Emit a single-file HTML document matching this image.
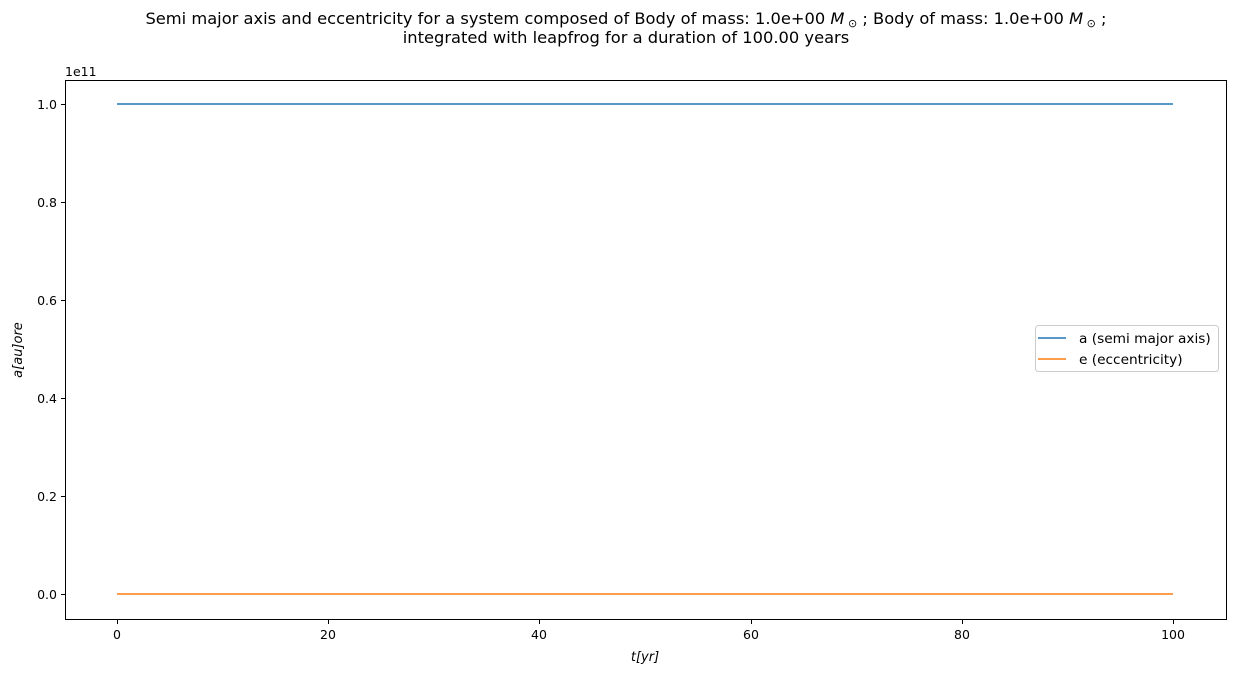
<!DOCTYPE html>
<html><head><meta charset="utf-8"><style>
html,body{margin:0;padding:0;background:#fff;}
svg text{font-family:"DejaVu Sans","Liberation Sans",sans-serif;fill:#000;}
</style></head><body>
<svg width="1236" height="676" viewBox="0 0 1236 676" xmlns="http://www.w3.org/2000/svg">
<rect width="1236" height="676" fill="#fff"/>
<text x="626" y="24" font-size="16.3" text-anchor="middle">Semi major axis and eccentricity for a system composed of Body of mass: 1.0e+00 <tspan font-style="italic">M</tspan><tspan font-size="11" dy="3"> ⊙</tspan><tspan dy="-3"> ; Body of mass: 1.0e+00 </tspan><tspan font-style="italic">M</tspan><tspan font-size="11" dy="3"> ⊙</tspan><tspan dy="-3"> ;</tspan></text>
<text x="626" y="43" font-size="16.3" text-anchor="middle">integrated with leapfrog for a duration of 100.00 years</text>
<rect x="65.5" y="80.5" width="1161" height="539" fill="none" stroke="#000" stroke-width="1"/>
<g stroke="#000" stroke-width="1">
<line x1="65" y1="104.5" x2="61" y2="104.5"/>
<line x1="65" y1="202.5" x2="61" y2="202.5"/>
<line x1="65" y1="300.5" x2="61" y2="300.5"/>
<line x1="65" y1="398.5" x2="61" y2="398.5"/>
<line x1="65" y1="496.5" x2="61" y2="496.5"/>
<line x1="65" y1="594.5" x2="61" y2="594.5"/>
<line x1="117.5" y1="620" x2="117.5" y2="624"/>
<line x1="328.5" y1="620" x2="328.5" y2="624"/>
<line x1="539.5" y1="620" x2="539.5" y2="624"/>
<line x1="751.5" y1="620" x2="751.5" y2="624"/>
<line x1="962.5" y1="620" x2="962.5" y2="624"/>
<line x1="1173.5" y1="620" x2="1173.5" y2="624"/>
</g>
<g font-size="12.5" text-anchor="end">
<text x="57" y="109">1.0</text>
<text x="57" y="207">0.8</text>
<text x="57" y="305">0.6</text>
<text x="57" y="403">0.4</text>
<text x="57" y="501">0.2</text>
<text x="57" y="599">0.0</text>
</g>
<text x="65" y="76" font-size="12.5">1e11</text>
<g font-size="12.5" text-anchor="middle">
<text x="117" y="639">0</text>
<text x="328" y="639">20</text>
<text x="539" y="639">40</text>
<text x="751" y="639">60</text>
<text x="962" y="639">80</text>
<text x="1173" y="639">100</text>
</g>
<text x="645" y="661" font-size="13" text-anchor="middle" font-style="italic">t[yr]</text>
<text x="22" y="350" font-size="13" text-anchor="middle" font-style="italic" transform="rotate(-90 22 350)">a[au]ore</text>
<line x1="117" y1="104" x2="1173" y2="104" stroke="#1f77b4" stroke-width="1.5"/>
<line x1="117" y1="594" x2="1173" y2="594" stroke="#ff7f0e" stroke-width="1.5"/>
<rect x="1035.5" y="325.5" width="183" height="46" rx="3" fill="#fff" stroke="#ccc"/>
<line x1="1038" y1="338" x2="1066" y2="338" stroke="#1f77b4" stroke-width="1.5"/>
<line x1="1038" y1="359" x2="1066" y2="359" stroke="#ff7f0e" stroke-width="1.5"/>
<text x="1079" y="343" font-size="13.7">a (semi major axis)</text>
<text x="1079" y="364" font-size="13.7">e (eccentricity)</text>
</svg>
</body></html>
